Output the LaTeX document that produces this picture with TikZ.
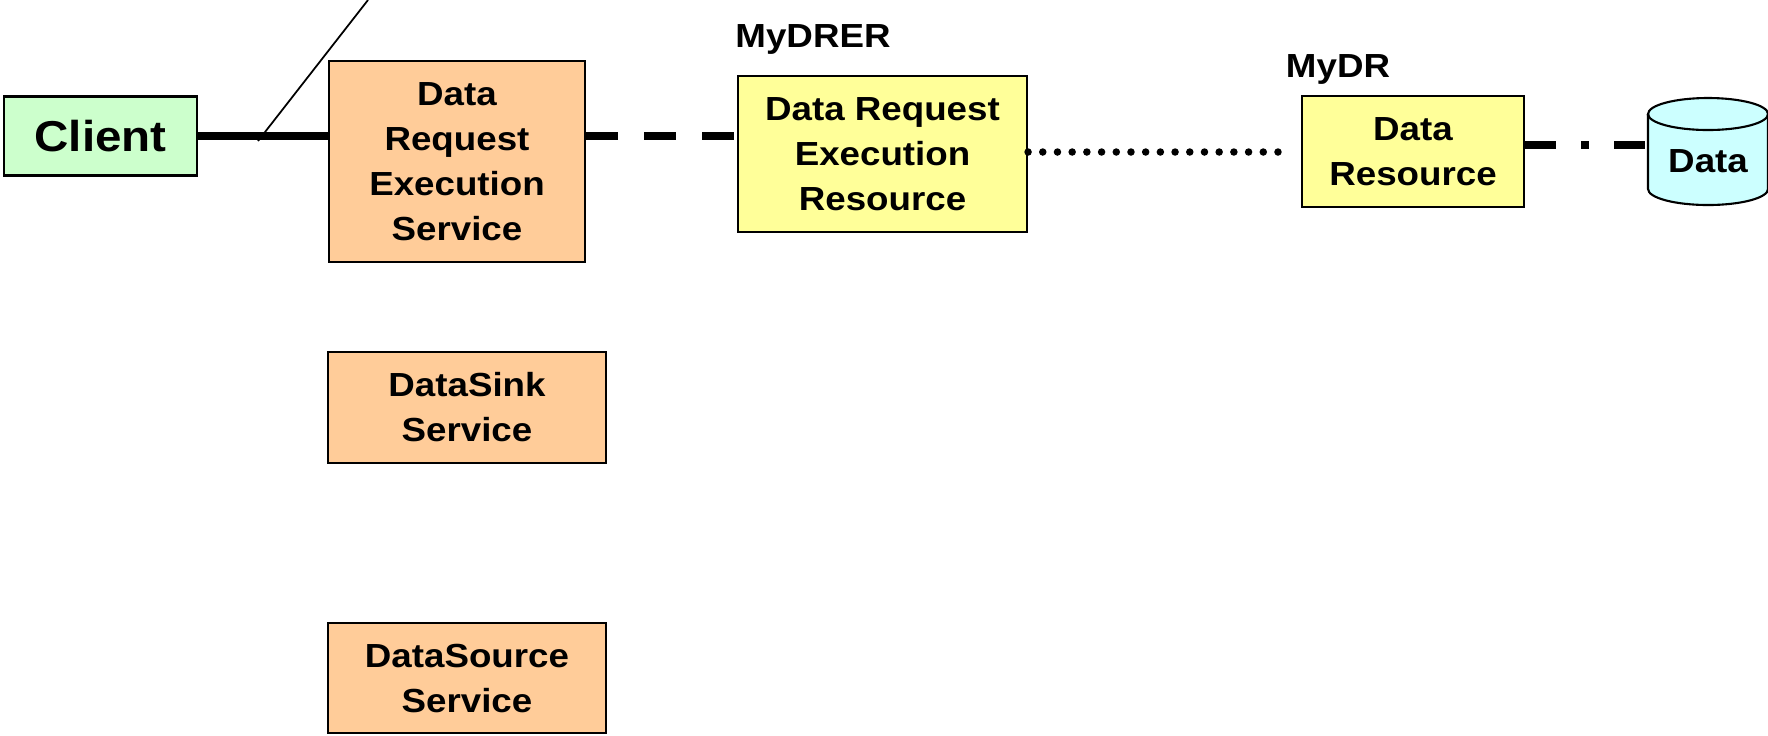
\documentclass[tikz,border=0pt]{standalone}
\usepackage{fontspec}
\setmainfont{Liberation Sans}[FakeStretch=1.1]
\begin{document}
\begin{tikzpicture}[font=\fontsize{9.5}{12.8}\selectfont\bfseries]

% Styles
\tikzset{
	box/.style={
		rectangle, draw=black, line width=0.6pt,
		align=center, inner sep=0pt,
		fill=#1,
	},
	link/.style={
		line width=2pt,
	},
	tag/.style={
		anchor=base, inner sep=0pt,
	}
}

% Colors
\definecolor{clientgreen}{RGB}{204,255,204}
\definecolor{serviceorange}{RGB}{255,204,153}
\definecolor{resyellow}{RGB}{255,255,153}
\definecolor{cylblue}{RGB}{204,255,255}

\useasboundingbox (0,0) rectangle (17.68,-7.35);

% Client
\node[box=clientgreen, minimum width=1.93cm, minimum height=0.79cm, font=\fontsize{12.3}{14}\selectfont\bfseries] (client) at (1.005,-1.36) {Client};

% Services (left column)
\node[box=serviceorange, minimum width=2.56cm, minimum height=2.01cm] (dres) at (4.57,-1.615) {Data\\Request\\Execution\\Service};
\node[box=serviceorange, minimum width=2.78cm, minimum height=1.11cm] (sink) at (4.67,-4.075) {DataSink\\Service};
\node[box=serviceorange, minimum width=2.78cm, minimum height=1.10cm] (source) at (4.67,-6.78) {DataSource\\Service};

% Resources
\node[box=resyellow, minimum width=2.89cm, minimum height=1.56cm] (drer) at (8.825,-1.54) {Data Request\\Execution\\Resource};
\node[box=resyellow, minimum width=2.22cm, minimum height=1.11cm] (dr) at (14.13,-1.515) {Data\\Resource};

% Names above the resources
\node[tag] (drername) at (8.13,-0.47) {MyDRER};
\node[tag] (drname) at (13.38,-0.77) {MyDR};

% Data store (cylinder drawn first, text on top)
\draw[fill=cylblue, line width=0.6pt] (16.48,-1.14) -- (16.48,-1.89) arc[start angle=180, end angle=360, x radius=0.6, y radius=0.16] -- (17.68,-1.14) arc[start angle=0, end angle=180, x radius=0.6, y radius=0.16] -- cycle;
\draw[line width=0.6pt] (16.48,-1.14) arc[start angle=180, end angle=360, x radius=0.6, y radius=0.16];
\node[minimum width=1.2cm, minimum height=1.07cm, inner sep=0pt] (data) at (17.08,-1.61) {Data};

% Connectors
\draw[link] (client.east) -- (client.east -| dres.west);
\draw[link, dash pattern=on 0.32cm off 0.26cm] (client.east -| dres.east) -- (client.east -| drer.west);
\draw[line width=0.075cm, line cap=round, dash pattern=on 0pt off 0.147cm, shorten >=0.2cm] ([yshift=0.02cm]drer.east) -- ([yshift=0.02cm]drer.east -| dr.west);
\draw[link, dash pattern=on 0.31cm off 0.25cm on 0.08cm off 0.25cm] ([yshift=0.065cm]dr.east) -- ([yshift=0.065cm]dr.east -| data.west);

% Thin tap line from the client link
\coordinate (tap) at (2.58,-1.41);
\coordinate (tapend) at (3.68,0);
\draw[line width=0.5pt] (tap) -- (tapend);

\end{tikzpicture}
\end{document}
